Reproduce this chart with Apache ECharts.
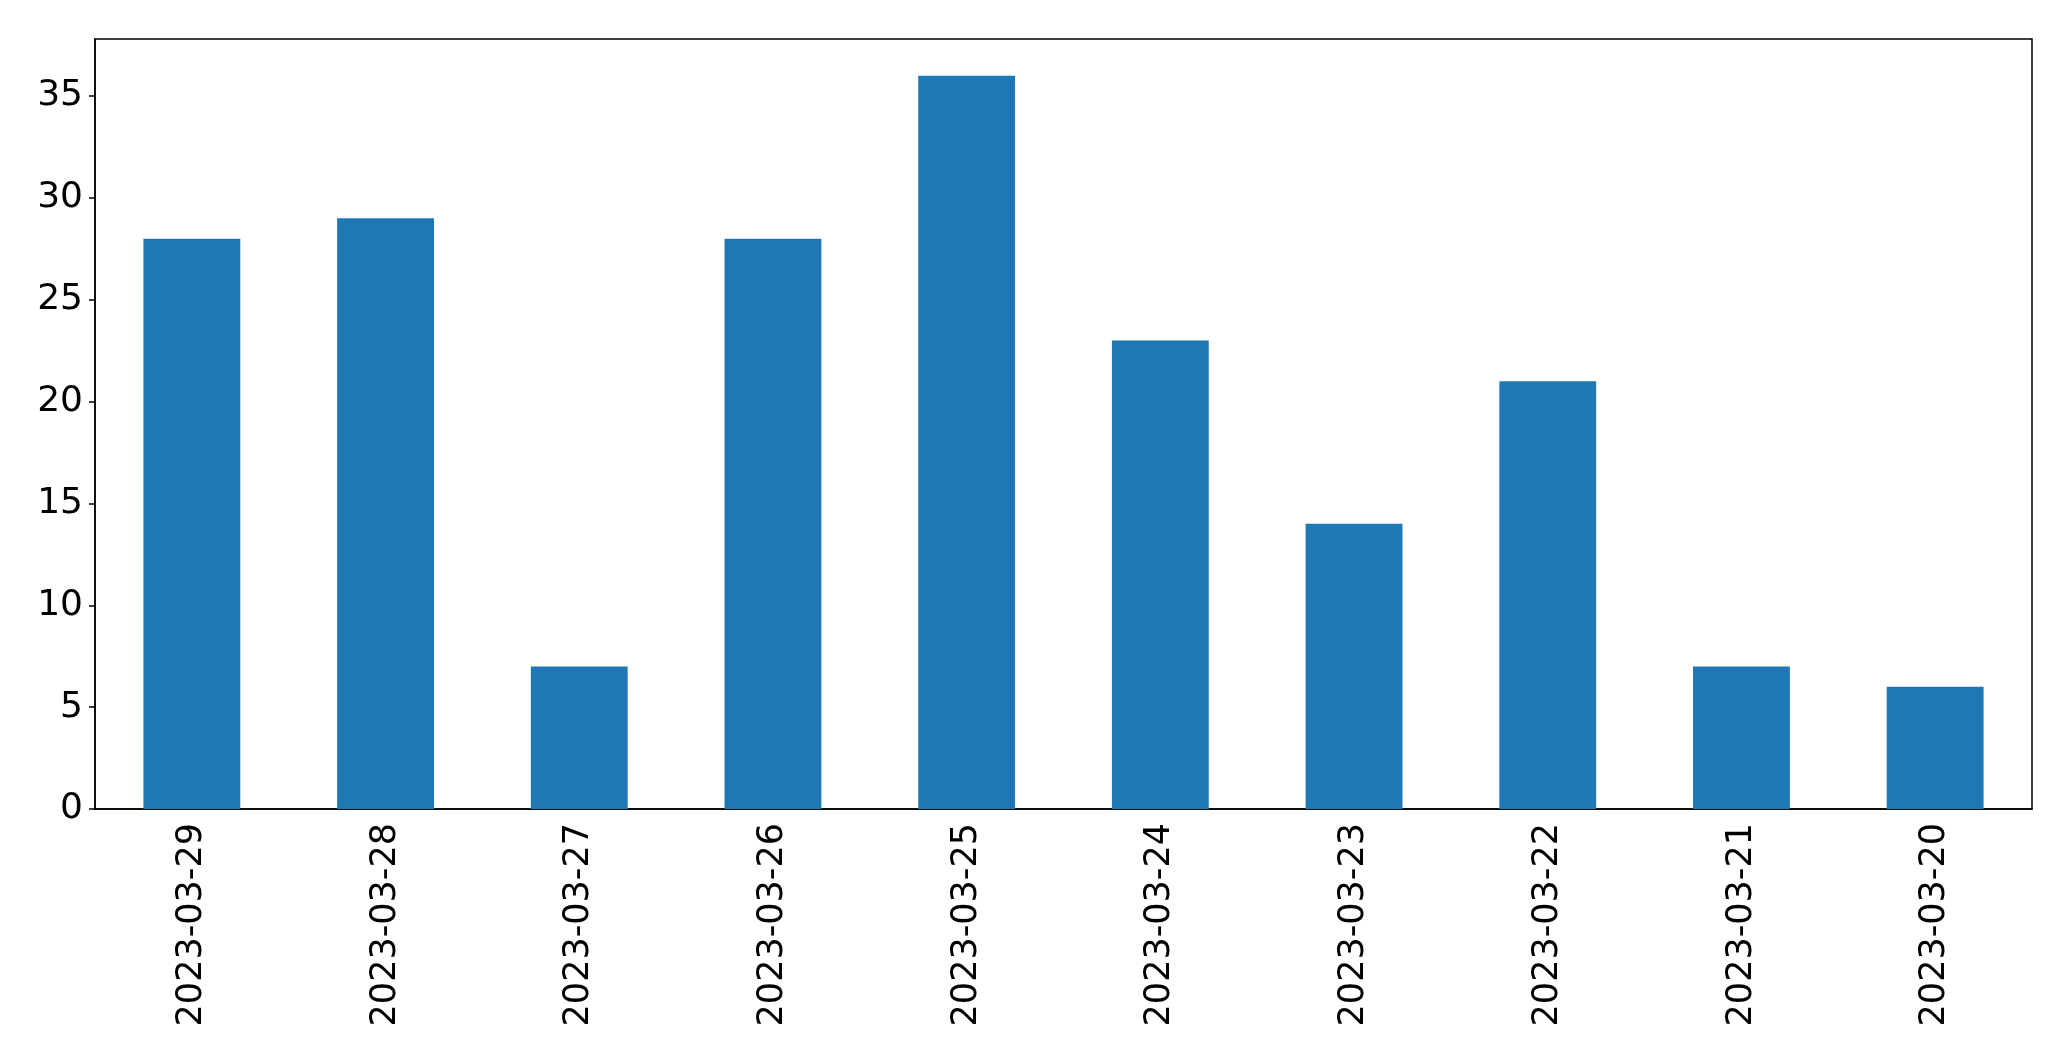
<!DOCTYPE html>
<html>
<head>
<meta charset="utf-8">
<script src="https://cdn.jsdelivr.net/npm/echarts@6/dist/echarts.min.js"></script>
<style>
html,body{margin:0;padding:0;background:#fff;}
#chart{width:2071px;height:1061px;}
</style>
</head>
<body>
<div id="chart"></div>
<script>
const categories = ["2023-03-29","2023-03-28","2023-03-27","2023-03-26","2023-03-25","2023-03-24","2023-03-23","2023-03-22","2023-03-21","2023-03-20"];
const values = [28, 29, 7, 28, 36, 23, 14, 21, 7, 6];
const yTicks = [0, 5, 10, 15, 20, 25, 30, 35];

const chart = echarts.init(document.getElementById('chart'), null, {renderer:'canvas'});
chart.setOption({
  animation: false,
  backgroundColor: '#fff',
  grid: {left: 95, right: 39, top: 39, bottom: 252, show: true, borderColor: '#000', borderWidth: 1.5, containLabel: false},
  xAxis: {
    type: 'category',
    data: categories,
    boundaryGap: true,
    axisLine: {lineStyle: {color: '#000', width: 1.5}},
    axisTick: {alignWithLabel: true, length: 6, lineStyle: {color: '#000', width: 1.5}},
    axisLabel: {rotate: 90, interval: 0, color: '#000', fontSize: 35, fontFamily: 'DejaVu Sans', margin: 14}
  },
  yAxis: {
    type: 'value',
    min: 0,
    max: 37.8,
    interval: 5,
    splitLine: {show: false},
    axisLine: {show: true, lineStyle: {color: '#000', width: 1.5}},
    axisTick: {show: true, length: 6, customValues: yTicks, lineStyle: {color: '#000', width: 1.5}},
    axisLabel: {color: '#000', fontSize: 36, fontFamily: 'DejaVu Sans', margin: 12, customValues: yTicks,
      formatter: function(v){ return yTicks.indexOf(v) >= 0 ? String(v) : ''; }}
  },
  series: [{
    type: 'bar',
    data: values,
    barWidth: '50%',
    itemStyle: {color: '#1f77b4'}
  }]
});
</script>
</body>
</html>
